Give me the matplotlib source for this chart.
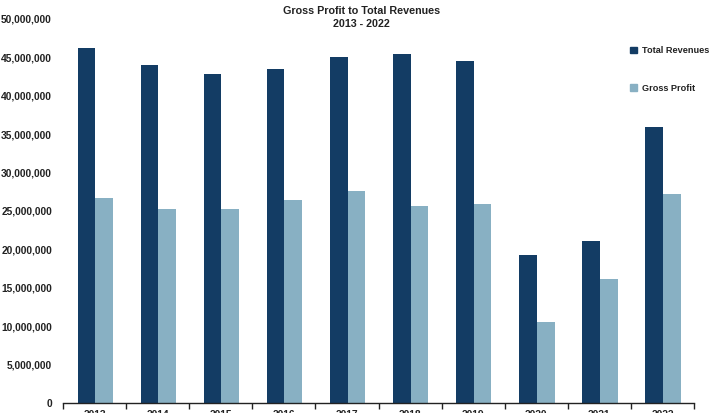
import matplotlib.pyplot as plt
import numpy as np
from matplotlib.patches import Patch
from matplotlib.ticker import FuncFormatter

plt.rcParams['font.family'] = ['Liberation Sans', 'DejaVu Sans']
plt.rcParams['font.weight'] = 'bold'

lata = ['2013', '2014', '2015', '2016', '2017', '2018', '2019', '2020', '2021', '2022']
przychody = [46.2e6, 44.0e6, 42.85e6, 43.5e6, 45.1e6, 45.45e6, 44.55e6, 19.3e6, 21.05e6, 35.95e6]
zysk_brutto = [26.75e6, 25.2e6, 25.2e6, 26.45e6, 27.55e6, 25.7e6, 25.95e6, 10.6e6, 16.2e6, 27.15e6]

ciemny = '#133c64'
jasny = '#88b0c3'
tekst = '#222222'

fig = plt.figure(figsize=(7.18, 4.13), dpi=100)
ax = fig.add_axes([63 / 718, 10 / 413, 631 / 718, 384 / 413])

x = np.arange(len(lata))
szer = 0.28
ax.bar(x - szer / 2 + 0.01, przychody, szer, color=ciemny, label='Total Revenues')
ax.bar(x + szer / 2 + 0.01, zysk_brutto, szer, color=jasny, label='Gross Profit')

ax.set_xlim(-0.5, len(lata) - 0.5)
ax.set_ylim(0, 50e6)
ax.set_yticks(np.arange(0, 50e6 + 1, 5e6))
ax.yaxis.set_major_formatter(FuncFormatter(lambda v, p: f'{int(v):,}'))
ax.tick_params(axis='y', length=0, pad=8, labelsize=7.4, labelcolor=tekst)

# lata pod osia, obciete przez dolna krawedz
ax.set_xticks(x)
ax.set_xticklabels(lata)
ax.set_xticks(np.arange(-0.5, len(lata)), minor=True)
ax.tick_params(axis='x', which='major', length=0, pad=5, labelsize=7.4, labelcolor=tekst)
ax.tick_params(axis='x', which='minor', length=4, width=1, color='#222222')

for s in ['top', 'right', 'left']:
    ax.spines[s].set_visible(False)
ax.spines['bottom'].set_color('#222222')
ax.spines['bottom'].set_linewidth(1)

fig.text(0.503, 1 - 11 / 413, 'Gross Profit to Total Revenues', ha='center', va='center',
         fontsize=7.75, fontweight='bold', color=tekst)
fig.text(0.503, 1 - 24 / 413, '2013 - 2022', ha='center', va='center',
         fontsize=7.75, fontweight='bold', color=tekst)

uchwyty = [Patch(color=ciemny, label='Total Revenues'), Patch(color=jasny, label='Gross Profit')]
fig.legend(handles=uchwyty, loc='upper left', bbox_to_anchor=(622 / 718, 1 - 38 / 413),
           frameon=False, fontsize=6.6, handlelength=0.7, handleheight=0.7,
           handletextpad=0.6, labelspacing=3.1, labelcolor=tekst)

fig.savefig('out.png', dpi=100)
